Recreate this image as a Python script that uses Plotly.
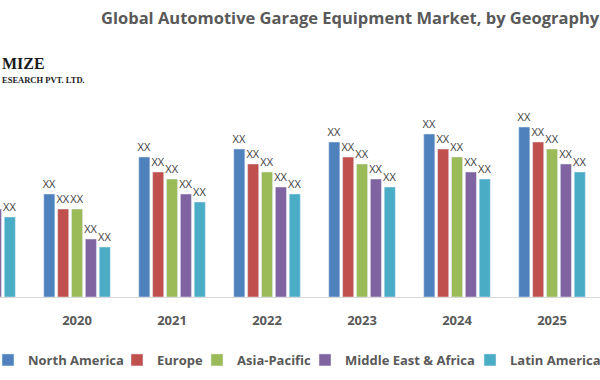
import plotly.graph_objects as go

years = ["2019", "2020", "2021", "2022", "2023", "2024", "2025", "2026"]
regions = ["North America", "Europe", "Asia-Pacific", "Middle East & Africa", "Latin America"]
north_america = [125, 103, 140, 148, 155, 163, 170, 178]
europe = [110, 88, 125, 133, 140, 148, 155, 163]
asia_pacific = [103, 88, 118, 125, 133, 140, 148, 155]
middle_east_africa = [88, 58, 103, 110, 118, 125, 133, 140]
latin_america = [80, 50, 95, 103, 110, 118, 125, 133]
label_text = "XX"
title_text = "Global Automotive Garage Equipment Market, by Geography"
logo_line1 = "MIZE"
logo_line2 = "ESEARCH PVT. LTD."

series = [north_america, europe, asia_pacific, middle_east_africa, latin_america]
colors = ["#4F81BD", "#C0504D", "#9BBB59", "#8064A2", "#4BACC6"]
legend_ids = ["legend", "legend2", "legend3", "legend4", "legend5"]
legend_text_x = [28, 157, 237, 345, 510]

W, H = 600, 380
mt, mb = 40, 83
ph = H - mt - mb

fig = go.Figure()
for name, vals, col, lg in zip(regions, series, colors, legend_ids):
    fig.add_trace(go.Bar(
        x=years, y=vals, name=name, marker_color=col, legend=lg,
        text=[label_text] * len(vals), textposition="outside",
        textfont=dict(family="Open Sans", size=11, color="#404040"),
        constraintext="none", cliponaxis=False,
    ))

legend_font = dict(family="Open Sans", size=13, color="#595959", weight="bold")
legends = {}
for lg, tx in zip(legend_ids, legend_text_x):
    legends[lg] = dict(orientation="h", x=(tx - 40) / W, xanchor="left",
                       y=(297 - 360) / ph, yanchor="middle", font=legend_font,
                       bgcolor="rgba(0,0,0,0)", itemwidth=30)

fig.update_layout(
    width=W, height=H,
    margin=dict(l=0, r=0, t=mt, b=mb, pad=0, autoexpand=False),
    paper_bgcolor="white", plot_bgcolor="white",
    barmode="group", bargap=0.27, bargroupgap=0.2,
    showlegend=True,
    xaxis=dict(type="category", range=[0.189, 6.505], showline=True, linecolor="#d9d9d9",
               linewidth=1, showgrid=False, ticks="", ticklabelstandoff=11, automargin=False,
               tickfont=dict(family="Open Sans", size=13, color="#595959", weight="bold")),
    yaxis=dict(range=[0, ph], visible=False, showgrid=False),
    annotations=[
        dict(text=title_text, xref="paper", yref="paper",
             x=99 / W, xanchor="left", y=1 + (mt - 17) / ph, yanchor="middle", showarrow=False,
             font=dict(family="Open Sans", size=16.5, color="#595959", weight="bold")),
        dict(text=logo_line1, xref="paper", yref="paper", x=0, xanchor="left",
             y=(297 - 63) / ph, yanchor="middle", showarrow=False,
             font=dict(family="Liberation Serif", size=16, color="#1a1a1a", weight="bold")),
        dict(text=logo_line2, xref="paper", yref="paper", x=0, xanchor="left",
             y=(297 - 80) / ph, yanchor="middle", showarrow=False,
             font=dict(family="Liberation Serif", size=8.5, color="#1a1a1a", weight="bold")),
    ],
    **legends,
)

fig.write_html("out.html", post_script="document.body.style.margin='0px';",
               config={"displayModeBar": False})
